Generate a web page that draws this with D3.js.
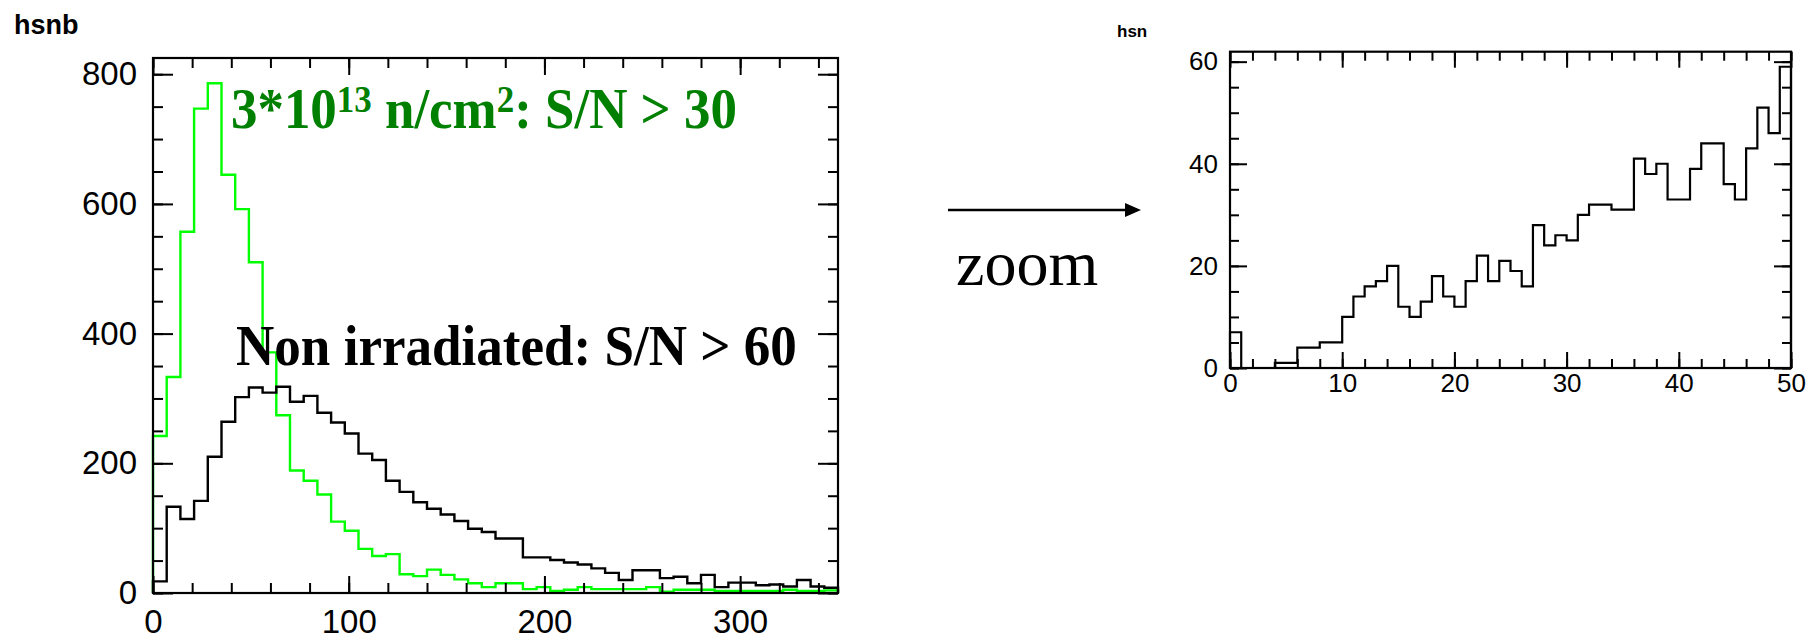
<html>
<head>
    <meta charset="UTF-8">
    <script src="https://d3js.org/d3.v7.min.js"></script>
    <title>hsnb / hsn</title>
    <style>
        body { margin: 0; background: white; }
        .tick line { stroke: black; stroke-width: 2; }
    </style>
</head>
<body>
    <svg id="chart" width="1813" height="640"></svg>
    <script>
        // bins of 7 units from 0 to 350
        const binWidthLeft = 7;
        const green30 = [242, 333, 557, 747, 786, 645, 592, 510, 371, 274,
            189, 173, 152, 110, 96, 68, 57, 60, 29, 26,
            36, 28, 21, 15, 9, 15, 15, 6, 9, 3,
            5, 9, 6, 6, 6, 6, 9, 2, 5, 5,
            5, 3, 3, 3, 3, 3, 5, 3, 3, 4];
        const black60 = [18, 133, 114, 142, 210, 264, 302, 317, 309, 318,
            295, 304, 278, 263, 246, 215, 205, 173, 156, 140,
            130, 121, 111, 99, 94, 84, 84, 55, 55, 51,
            47, 44, 38, 31, 20, 35, 35, 23, 25, 15,
            28, 9, 16, 16, 12, 13, 10, 20, 10, 8];
        const leftXTicks = [0, 100, 200, 300];
        const leftYTicks = [0, 200, 400, 600, 800];

        // zoomed histogram, bins of 1 unit from 0 to 50
        const binWidthRight = 1;
        const zoomCounts = [7, 0, 0, 0, 1, 1, 4, 4, 5, 5,
            10, 14, 16, 17, 20, 12, 10, 13, 18, 14,
            12, 17, 22, 17, 21, 19, 16, 28, 24, 26,
            25, 30, 32, 32, 31, 31, 41, 38, 40, 33,
            33, 39, 44, 44, 36, 33, 43, 51, 46, 59];
        const rightXTicks = [0, 10, 20, 30, 40, 50];
        const rightYTicks = [0, 20, 40, 60];

        const svg = d3.select('#chart');

        // draws a framed ROOT-like pad with inward ticks on all four sides
        function pad(opt) {
            const g = svg.append('g');
            const x = opt.x, y = opt.y;
            const [x0, x1] = x.range();
            const [y0, y1] = y.range();

            const minorX = d3.range(x.domain()[0], x.domain()[1] + 1e-9, opt.minorX);
            const minorY = d3.range(y.domain()[0], opt.yMaxTick + 1e-9, opt.minorY);

            // minor ticks
            g.append('g').attr('transform', `translate(0,${y0})`)
                .call(d3.axisBottom(x).tickValues(minorX).tickSize(-opt.minorLen).tickFormat(''));
            g.append('g').attr('transform', `translate(0,${y1})`)
                .call(d3.axisTop(x).tickValues(minorX).tickSize(-opt.minorLen).tickFormat(''));
            g.append('g').attr('transform', `translate(${x0},0)`)
                .call(d3.axisLeft(y).tickValues(minorY).tickSize(-opt.minorLen).tickFormat(''));
            g.append('g').attr('transform', `translate(${x1},0)`)
                .call(d3.axisRight(y).tickValues(minorY).tickSize(-opt.minorLen).tickFormat(''));

            // major ticks with labels
            g.append('g').attr('transform', `translate(0,${y0})`)
                .call(d3.axisBottom(x).tickValues(opt.xTicks).tickSize(-opt.majorX).tickPadding(opt.xPad));
            g.append('g').attr('transform', `translate(0,${y1})`)
                .call(d3.axisTop(x).tickValues(opt.xTicks).tickSize(-opt.majorX).tickFormat(''));
            g.append('g').attr('transform', `translate(${x0},0)`)
                .call(d3.axisLeft(y).tickValues(opt.yTicks).tickSize(-opt.majorY).tickPadding(opt.yPad));
            g.append('g').attr('transform', `translate(${x1},0)`)
                .call(d3.axisRight(y).tickValues(opt.yTicks).tickSize(-opt.majorY).tickFormat(''));

            g.selectAll('.domain').remove();
            g.selectAll('text')
                .attr('font-family', 'Liberation Sans, Arial, sans-serif')
                .attr('font-size', opt.fontSize)
                .attr('fill', 'black');

            // frame
            g.append('rect')
                .attr('x', x0).attr('y', y1)
                .attr('width', x1 - x0).attr('height', y0 - y1)
                .attr('fill', 'none').attr('stroke', 'black').attr('stroke-width', 2.2);
            return g;
        }

        // step outline of a histogram
        function histPath(x, y, counts, width) {
            const pts = [[0, 0]];
            counts.forEach((c, i) => pts.push([i * width, c]));
            pts.push([counts.length * width, counts[counts.length - 1]]);
            pts.push([counts.length * width, 0]);
            return d3.line()
                .x(d => x(d[0]))
                .y(d => y(d[1]))
                .curve(d3.curveStepAfter)(pts);
        }

        // squeeze a text horizontally to a wanted width
        function squeeze(sel, x, y, w) {
            const len = sel.node().getComputedTextLength();
            sel.attr('transform', `translate(${x},${y}) scale(${w / len},1)`);
        }

        // ---------- left pad ----------
        const xL = d3.scaleLinear().domain([0, 350]).range([153, 838]);
        const yL = d3.scaleLinear().domain([0, 825]).range([593, 58]);

        svg.append('path').attr('d', histPath(xL, yL, green30, binWidthLeft))
            .attr('fill', 'none').attr('stroke', '#00ff00').attr('stroke-width', 2.4);
        svg.append('path').attr('d', histPath(xL, yL, black60, binWidthLeft))
            .attr('fill', 'none').attr('stroke', 'black').attr('stroke-width', 2.4);

        pad({
            x: xL, y: yL, xTicks: leftXTicks, yTicks: leftYTicks,
            minorX: 20, minorY: 50, yMaxTick: 800,
            majorX: 17, majorY: 20, minorLen: 10,
            xPad: 17, yPad: 16, fontSize: 33
        });

        svg.append('text').text('hsnb')
            .attr('x', 14).attr('y', 34)
            .attr('font-family', 'Liberation Sans, Arial, sans-serif')
            .attr('font-weight', 'bold').attr('font-size', 27);

        const green = svg.append('text')
            .attr('font-family', 'Liberation Serif, Times New Roman, serif')
            .attr('font-weight', 'bold').attr('font-size', 56)
            .attr('fill', '#008000');
        green.append('tspan').text('3*10');
        green.append('tspan').text('13').attr('font-size', 37).attr('dy', -16);
        green.append('tspan').text(' n/cm').attr('dy', 16);
        green.append('tspan').text('2').attr('font-size', 37).attr('dy', -16);
        green.append('tspan').text(': S/N > 30').attr('dy', 16);
        squeeze(green, 231, 128, 506);

        const black = svg.append('text').text('Non irradiated: S/N > 60')
            .attr('font-family', 'Liberation Serif, Times New Roman, serif')
            .attr('font-weight', 'bold').attr('font-size', 56)
            .attr('fill', 'black');
        squeeze(black, 236, 365, 561);

        // ---------- arrow ----------
        svg.append('line')
            .attr('x1', 948).attr('y1', 210).attr('x2', 1128).attr('y2', 210)
            .attr('stroke', 'black').attr('stroke-width', 2.5);
        svg.append('path')
            .attr('d', 'M1125,203 L1141,210 L1125,217 Z')
            .attr('fill', 'black');
        svg.append('text').text('zoom')
            .attr('x', 956).attr('y', 285)
            .attr('font-family', 'Liberation Serif, Times New Roman, serif')
            .attr('font-size', 64);

        // ---------- right pad ----------
        const xR = d3.scaleLinear().domain([0, 50]).range([1230, 1791]);
        const yR = d3.scaleLinear().domain([0, 61.95]).range([368, 51.7]);

        svg.append('path').attr('d', histPath(xR, yR, zoomCounts, binWidthRight))
            .attr('fill', 'none').attr('stroke', 'black').attr('stroke-width', 2.2);

        pad({
            x: xR, y: yR, xTicks: rightXTicks, yTicks: rightYTicks,
            minorX: 2, minorY: 5, yMaxTick: 60,
            majorX: 16, majorY: 17, minorLen: 9,
            xPad: 6, yPad: 12, fontSize: 26
        });

        svg.append('text').text('hsn')
            .attr('x', 1117).attr('y', 37)
            .attr('font-family', 'Liberation Sans, Arial, sans-serif')
            .attr('font-weight', 'bold').attr('font-size', 17);
    </script>
</body>
</html>
